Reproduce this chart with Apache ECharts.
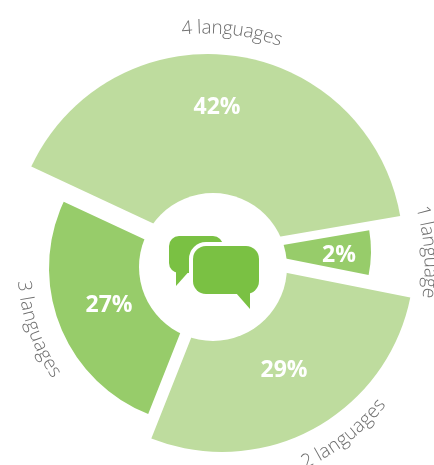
<!DOCTYPE html>
<html>
<head>
<meta charset="utf-8">
<style>html,body{margin:0;padding:0;background:#fff}#chart{width:434px;height:465px}</style>
<script src="https://cdn.jsdelivr.net/npm/echarts@6/dist/echarts.min.js"></script>
</head>
<body>
<div id="chart"></div>
<script>
// Share of respondents by number of languages, clockwise from the upper left
const categories = ['4 languages', '1 language', '2 languages', '3 languages'];
const shares = [42, 2, 29, 27];
const sliceColors = ['#BEDC9E', '#97CC6A', '#BEDC9E', '#97CC6A'];

// Each slice is pulled out on its own: apex and outer radius
const apexes = [[208, 249], [248, 251], [222, 260], [206, 268]];
const outerRadii = [195, 123, 192, 157];
// Where the percentage of each slice sits
const labelSpots = [[217, 107], [339, 255], [284, 370], [109, 305]];

// Curved captions: centre of curvature, mid-glyph radius, middle angle, running direction
const captionCentres = [[207, 247], [213, 267], [213, 267], [213, 267]];
const captionRadii = [219, 217, 216, 190];
const captionAngles = [83.4, 4, -52, 199.5];
const captionClockwise = [true, true, false, false];

const hubCenter = [213, 267];
const hubRadius = 74;
const captionFont = '300 19px "Open Sans"';
const icon = '#7AC143';

const slices = categories.map((name, i) => ({ name, value: shares[i] }));

const series = categories.map((_, owner) => ({
  type: 'pie',
  silent: true,
  animation: false,
  startAngle: 155,
  minAngle: 21,
  clockwise: true,
  avoidLabelOverlap: false,
  center: apexes[owner],
  radius: [0, outerRadii[owner]],
  labelLine: { show: false },
  labelLayout: { x: labelSpots[owner][0], y: labelSpots[owner][1] },
  data: slices.map((s, i) => ({
    name: s.name,
    value: s.value,
    itemStyle: { color: i === owner ? sliceColors[i] : 'transparent', borderWidth: 0 },
    label: {
      show: i === owner,
      position: 'inside',
      formatter: '{c}%',
      color: '#fff',
      fontFamily: 'Open Sans',
      fontWeight: 700,
      fontSize: 23,
      textBorderWidth: 0
    }
  }))
}));

// Lay a caption along a circle, one rotated glyph at a time
const measure = document.createElement('canvas').getContext('2d');
measure.font = captionFont;
function curvedCaption(text, centre, radius, midDeg, cw) {
  const total = measure.measureText(text).width;
  let run = -total / 2;
  const out = [];
  for (const ch of text) {
    const w = measure.measureText(ch).width;
    const s = run + w / 2;
    run += w;
    const deg = midDeg + (cw ? -1 : 1) * (s / radius) * 180 / Math.PI;
    const rad = deg * Math.PI / 180;
    out.push({
      type: 'text',
      z: 12,
      silent: true,
      x: centre[0] + radius * Math.cos(rad),
      y: centre[1] - radius * Math.sin(rad),
      rotation: (cw ? deg - 90 : deg + 90) * Math.PI / 180,
      style: { text: ch, font: captionFont, fill: '#6e6e6e', align: 'center', verticalAlign: 'middle' }
    });
  }
  return out;
}

const captions = categories.flatMap((c, i) =>
  curvedCaption(c, captionCentres[i], captionRadii[i], captionAngles[i], captionClockwise[i]));

const hub = [
  { type: 'circle', z: 10, silent: true, shape: { cx: hubCenter[0], cy: hubCenter[1], r: hubRadius }, style: { fill: '#fff' } },
  // rear speech bubble
  { type: 'rect', z: 11, silent: true, shape: { x: 169, y: 236, width: 54, height: 37, r: 10 }, style: { fill: icon } },
  { type: 'polygon', z: 11, silent: true, shape: { points: [[176, 268], [176, 286], [192, 268]] }, style: { fill: icon } },
  // front speech bubble with its white halo
  { type: 'rect', z: 11, silent: true, shape: { x: 193, y: 246, width: 66, height: 48, r: 13 }, style: { fill: icon, stroke: '#fff', lineWidth: 8 } },
  { type: 'rect', z: 11, silent: true, shape: { x: 193, y: 246, width: 66, height: 48, r: 13 }, style: { fill: icon } },
  { type: 'polygon', z: 11, silent: true, shape: { points: [[236, 293], [250, 309], [250, 293]] }, style: { fill: icon } }
];

const chart = echarts.init(document.getElementById('chart'));
chart.setOption({
  backgroundColor: '#fff',
  animation: false,
  series,
  graphic: { elements: hub.concat(captions) }
});
</script>
</body>
</html>
